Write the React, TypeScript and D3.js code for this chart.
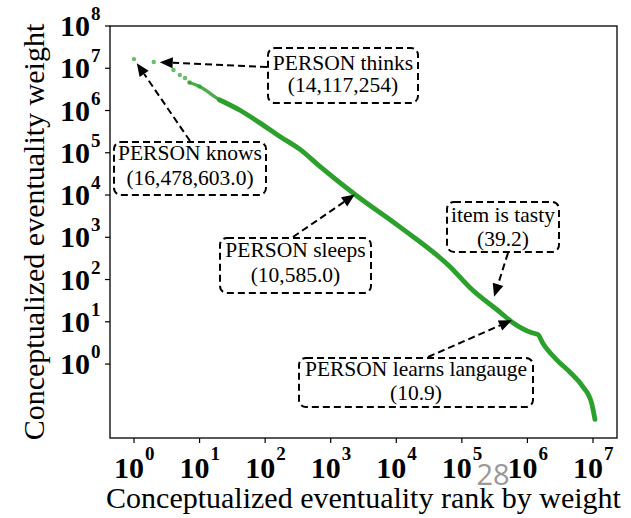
import { useEffect, useRef } from 'react';
import * as d3 from 'd3';

// rank / weight samples
const ranks = [1, 2, 4, 5, 6, 7, 10, 20, 42, 83, 170, 340, 690, 2400, 11200, 66000, 132000, 380000, 600000, 1170000, 1450000, 1700000, 2800000, 4500000, 6900000, 9500000, 10700000];
const weights = [16478603, 14117254, 9.1e6, 6.9e6, 5.9e6, 4.6e6, 3.7e6, 1.8e6, 1.0e6, 5.1e5, 2.4e5, 1.2e5, 4.7e4, 1.0e4, 1780, 200, 65, 17, 9.5, 5.5, 5.0, 3.2, 1.26, 0.63, 0.30, 0.12, 0.049];

const xTickExps = [0, 1, 2, 3, 4, 5, 6, 7];
const yTickExps = [0, 1, 2, 3, 4, 5, 6, 7, 8];

const noteLines = [
  ['PERSON thinks', '(14,117,254)'],
  ['PERSON knows', '(16,478,603.0)'],
  ['PERSON sleeps', '(10,585.0)'],
  ['item is tasty', '(39.2)'],
  ['PERSON learns langauge', '(10.9)'],
];
const noteRanks = [2, 1, 2400, 310000, 580000];
const noteWeights = [14117254, 16478603, 10585, 39.2, 10.9];

// box placement (pixels) for each note
const noteBoxes = [
  { x: 268, y: 48, w: 150, h: 55, b1: 70, b2: 92, tail: [267, 67], shrink: 6 },
  { x: 114, y: 142, w: 152, h: 53, b1: 160, b2: 185, tail: [190, 141], shrink: 5 },
  { x: 220, y: 238, w: 151, h: 55, b1: 257, b2: 282, tail: [293, 237], shrink: 1 },
  { x: 447, y: 202, w: 112, h: 50, b1: 222, b2: 246, tail: [508, 253], shrink: 0 },
  { x: 299, y: 358, w: 234, h: 49, b1: 376, b2: 400, tail: [428, 357], shrink: 0 },
];

const W = 631;
const H = 518;
const margin = { top: 26, right: 14, bottom: 80, left: 110 };
const green = '#2ca02c';
const serif = '"Liberation Serif", "Times New Roman", serif';

const App = () => {
  const svgRef = useRef<SVGSVGElement>(null);

  useEffect(() => {
    const svg = d3.select(svgRef.current);
    svg.selectAll('*').remove();

    const left = margin.left;
    const right = W - margin.right;
    const top = margin.top;
    const bottom = H - margin.bottom;

    const x = d3.scaleLog()
      .domain([Math.pow(10, -0.366), Math.pow(10, 7.366)])
      .range([left, right]);
    const y = d3.scaleLog()
      .domain([Math.pow(10, -1.75), 1e8])
      .range([bottom, top]);

    // frame
    svg.append('rect')
      .attr('x', left).attr('y', top)
      .attr('width', right - left).attr('height', bottom - top)
      .attr('fill', 'none').attr('stroke', '#000').attr('stroke-width', 1.3);

    // x ticks
    xTickExps.forEach(e => {
      const px = x(Math.pow(10, e));
      svg.append('line')
        .attr('x1', px).attr('x2', px).attr('y1', bottom).attr('y2', bottom + 5)
        .attr('stroke', '#000').attr('stroke-width', 1.2);
      svg.append('text')
        .attr('x', px + 10).attr('y', bottom + 40)
        .attr('text-anchor', 'end')
        .attr('font-family', serif).attr('font-weight', 'bold').attr('font-size', 30)
        .text('10');
      svg.append('text')
        .attr('x', px + 11).attr('y', bottom + 22)
        .attr('font-family', serif).attr('font-weight', 'bold').attr('font-size', 19)
        .text(String(e));
    });

    // y ticks
    yTickExps.forEach(e => {
      const py = y(Math.pow(10, e));
      svg.append('line')
        .attr('x1', left - 5).attr('x2', left).attr('y1', py).attr('y2', py)
        .attr('stroke', '#000').attr('stroke-width', 1.2);
      svg.append('text')
        .attr('x', left - 20).attr('y', py + 10)
        .attr('text-anchor', 'end')
        .attr('font-family', serif).attr('font-weight', 'bold').attr('font-size', 30)
        .text('10');
      svg.append('text')
        .attr('x', left - 19).attr('y', py - 6)
        .attr('font-family', serif).attr('font-weight', 'bold').attr('font-size', 19)
        .text(String(e));
    });

    // axis labels
    svg.append('text')
      .attr('x', (left + right) / 2).attr('y', 508)
      .attr('text-anchor', 'middle')
      .attr('font-family', serif).attr('font-size', 30)
      .text('Conceptualized eventuality rank by weight');
    svg.append('text')
      .attr('transform', `translate(44,${(top + bottom) / 2}) rotate(-90)`)
      .attr('text-anchor', 'middle')
      .attr('font-family', serif).attr('font-size', 30)
      .text('Conceptualized eventuality weight');

    // data
    const pts = ranks.map((r, i) => [r, weights[i]] as [number, number]);
    const line = d3.line<[number, number]>()
      .x(d => x(d[0]))
      .y(d => y(d[1]))
      .curve(d3.curveMonotoneX);
    // sparse head of the curve: thinner
    svg.append('path')
      .datum(pts.slice(5, 9))
      .attr('d', line)
      .attr('fill', 'none')
      .attr('stroke', green)
      .attr('stroke-opacity', 0.85)
      .attr('stroke-width', 3.2)
      .attr('stroke-linecap', 'round');
    svg.append('path')
      .datum(pts.slice(7))
      .attr('d', line)
      .attr('fill', 'none')
      .attr('stroke', green)
      .attr('stroke-width', 4.8)
      .attr('stroke-linecap', 'round');
    svg.selectAll('.dot')
      .data(pts.slice(0, 7))
      .enter()
      .append('circle')
      .attr('class', 'dot')
      .attr('cx', d => x(d[0]))
      .attr('cy', d => y(d[1]))
      .attr('r', 2.2)
      .attr('fill', green)
      .attr('fill-opacity', 0.7);

    // annotations
    noteLines.forEach((lines, i) => {
      const b = noteBoxes[i];
      const tx = x(noteRanks[i]);
      const ty = y(noteWeights[i]);
      const [sx, sy] = b.tail;
      const dx = tx - sx;
      const dy = ty - sy;
      const len = Math.sqrt(dx * dx + dy * dy);
      const ux = dx / len;
      const uy = dy / len;
      const tipX = tx - ux * b.shrink;
      const tipY = ty - uy * b.shrink;
      const headLen = 13;
      const headW = 5.5;
      const baseX = tipX - ux * headLen;
      const baseY = tipY - uy * headLen;

      svg.append('line')
        .attr('x1', sx).attr('y1', sy).attr('x2', baseX).attr('y2', baseY)
        .attr('stroke', '#000').attr('stroke-width', 2)
        .attr('stroke-dasharray', '7,4');
      svg.append('polygon')
        .attr('points', [
          [tipX, tipY],
          [baseX - uy * headW, baseY + ux * headW],
          [baseX + uy * headW, baseY - ux * headW],
        ].map(p => p.join(',')).join(' '))
        .attr('fill', '#000');

      svg.append('rect')
        .attr('x', b.x).attr('y', b.y).attr('width', b.w).attr('height', b.h)
        .attr('rx', 7)
        .attr('fill', 'none').attr('stroke', '#000').attr('stroke-width', 2)
        .attr('stroke-dasharray', '7,4');
      [b.b1, b.b2].forEach((by, k) => {
        svg.append('text')
          .attr('x', b.x + b.w / 2).attr('y', by)
          .attr('text-anchor', 'middle')
          .attr('font-family', serif).attr('font-size', 21.5)
          .text(lines[k]);
      });
    });

    // page number overlay
    svg.append('text')
      .attr('x', 493).attr('y', 485)
      .attr('text-anchor', 'middle')
      .attr('font-family', '"Open Sans", sans-serif').attr('font-size', 29)
      .attr('fill', '#999')
      .text('28');
  }, []);

  return (
    <svg ref={svgRef} width={W} height={H}
      style={{ position: 'absolute', left: 0, top: 0, background: '#fff' }} />
  );
};

export default App;
